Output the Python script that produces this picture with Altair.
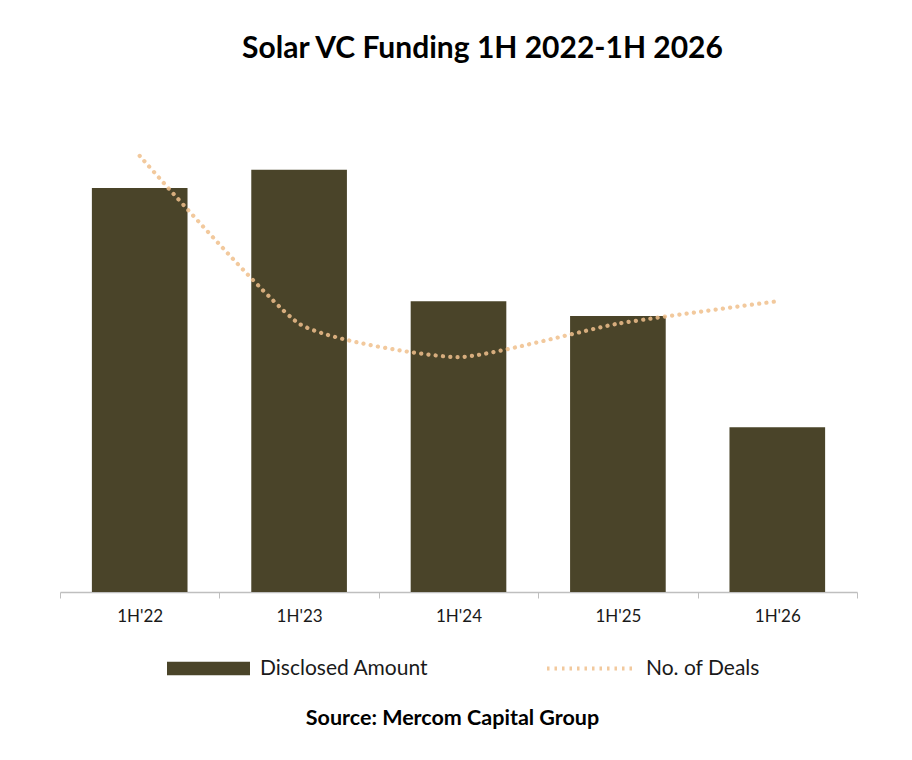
import altair as alt
import pandas as pd

periods = ["1H'22", "1H'23", "1H'24", "1H'25", "1H'26"]
disclosed_amount = [821, 858, 591, 561, 335]
deal_counts = [39, 24, 21, 24, 26]

BAR_COLOR = "#4a4429"
LINE_COLOR = "#f0c08c"
FONT = "Lato"

df = pd.DataFrame({
    "period": periods,
    "amount": disclosed_amount,
    "deals": deal_counts,
    "bar_series": "Disclosed Amount",
    "line_series": "No. of Deals",
})

x_enc = alt.X(
    "period:N",
    sort=periods,
    scale=alt.Scale(paddingInner=0, paddingOuter=0),
    axis=alt.Axis(
        title="Source: Mercom Capital Group",
        titleFont=FONT,
        titleFontSize=21.5,
        titleFontWeight="bold",
        titleColor="#000000",
        titlePadding=83,
        titleX=392,
        labelAngle=0,
        labelFont=FONT,
        labelFontSize=17,
        labelColor="#1a1a1a",
        labelPadding=10,
        tickBand="extent",
        tickSize=6,
        tickColor="#bfbfbf",
        domainColor="#bfbfbf",
        domainWidth=1.5,
        grid=False,
    ),
)

bars = alt.Chart(df).mark_bar(width=alt.RelativeBandSize(0.6)).encode(
    x=x_enc,
    y=alt.Y("amount:Q", scale=alt.Scale(domain=[0, 1000], nice=False), axis=None),
    fill=alt.Fill(
        "bar_series:N",
        scale=alt.Scale(domain=["Disclosed Amount"], range=[BAR_COLOR]),
        legend=alt.Legend(
            title=None,
            orient="none",
            legendX=107,
            legendY=527,
            symbolType="M-1,-0.16H1V0.16H-1Z",
            symbolSize=6889,
            symbolStrokeWidth=0,
            labelFont=FONT,
            labelFontSize=21,
            labelColor="#1a1a1a",
            labelOffset=10,
            labelLimit=300,
        ),
    ),
)

line = alt.Chart(df).mark_line(
    interpolate="cardinal",
    tension=0.5,
    strokeWidth=4.2,
    strokeCap="round",
    strokeDash=[0.1, 7.2],
    opacity=0.85,
).encode(
    x=alt.X("period:N", sort=periods),
    y=alt.Y("deals:Q", scale=alt.Scale(domain=[0, 44], nice=False), axis=None),
    stroke=alt.Stroke(
        "line_series:N",
        scale=alt.Scale(domain=["No. of Deals"], range=[LINE_COLOR]),
        legend=alt.Legend(
            title=None,
            orient="none",
            legendX=485,
            legendY=523,
            symbolType="stroke",
            symbolSize=7569,
            symbolStrokeWidth=4,
            symbolDash=[2.5, 5],
            labelFont=FONT,
            labelFontSize=21,
            labelColor="#1a1a1a",
            labelOffset=10,
            labelLimit=300,
        ),
    ),
)

chart = alt.layer(bars, line).resolve_scale(y="independent").properties(
    width=797,
    height=492,
    padding={"left": 52, "top": 92, "right": 40, "bottom": 150},
    autosize=alt.AutoSizeParams(type="none"),
    title=alt.Title(
        "Solar VC Funding 1H 2022-1H 2026",
        font=FONT,
        fontSize=30,
        fontWeight="bold",
        color="#000000",
        anchor="middle",
        dx=24,
        offset=36,
    ),
).configure_view(stroke=None)

chart.save("out.html", embed_options={"renderer": "svg", "actions": False})
